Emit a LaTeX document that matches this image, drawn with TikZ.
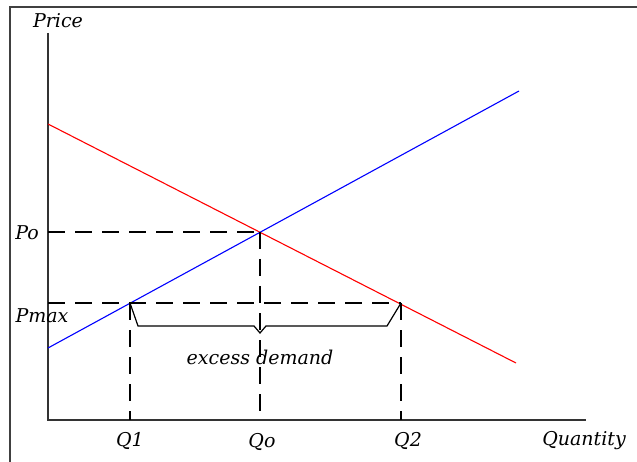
\documentclass[tikz,border=0pt]{standalone}
\usepackage{fontspec}
\setmainfont{DejaVu Serif}
\begin{document}
\begin{tikzpicture}[x=1pt,y=-1pt,
  lbl/.style={font=\fontsize{19}{22}\selectfont\itshape, inner sep=0pt},
  axis/.style={line width=1.4pt, black!80},
  dsh/.style={line width=1.2pt, dash pattern=on 17pt off 10pt},
  supply/.style={line width=1.1pt, blue},
  demand/.style={line width=1.1pt, red}]
\useasboundingbox (0,0) rectangle (637,462);
% frame
\coordinate (fbl) at (10,462);
\coordinate (ftl) at (10,7);
\coordinate (ftr) at (637,7);
\draw[line width=1.4pt, black!75] (fbl) -- (ftl) -- (ftr);
% axes
\coordinate (ytop) at (48,33);
\coordinate (orig) at (48,420);
\coordinate (xend) at (586,420);
\draw[axis] (ytop) -- (orig) -- (xend);
% curves
\coordinate (d0) at (48,124);
\coordinate (d1) at (516,363);
\coordinate (s0) at (48,348);
\coordinate (s1) at (519,91);
\draw[demand] (d0) -- (d1);
\draw[supply] (s0) -- (s1);
% key points
\coordinate (E) at (260,232);
\coordinate (A) at (130,303);
\coordinate (B) at (401,303);
\coordinate (Py) at (48,232);
\coordinate (Pm) at (48,303);
\coordinate (Qo) at (260,420);
\coordinate (Q1) at (130,420);
\coordinate (Q2) at (401,420);
\draw[dsh] (Py) -- (E);
\draw[dsh] (E) -- (Qo);
\draw[dsh] (Pm) -- (B);
\draw[dsh] (A) -- (Q1);
\draw[dsh] (B) -- (Q2);
% brace
\coordinate (b1) at (138,326);
\coordinate (b2) at (254,326);
\coordinate (bm) at (260,333);
\coordinate (b3) at (266,326);
\coordinate (b4) at (387,326);
\draw[line width=1.2pt] (A) -- (b1) -- (b2) -- (bm) -- (b3) -- (b4) -- (B);
% labels
\node[lbl] (price) at (58,21) {Price};
\node[lbl] (quantity) at (584,441) {Quantity};
\node[lbl] (po) at (27,233) {Po};
\node[lbl] (pmax) at (42,316) {Pmax};
\node[lbl] (q1) at (130,441) {Q1};
\node[lbl] (qo) at (262,442) {Qo};
\node[lbl] (q2) at (408,441) {Q2};
\node[lbl] (ex) at (260,357) {excess demand};
\end{tikzpicture}
\end{document}
